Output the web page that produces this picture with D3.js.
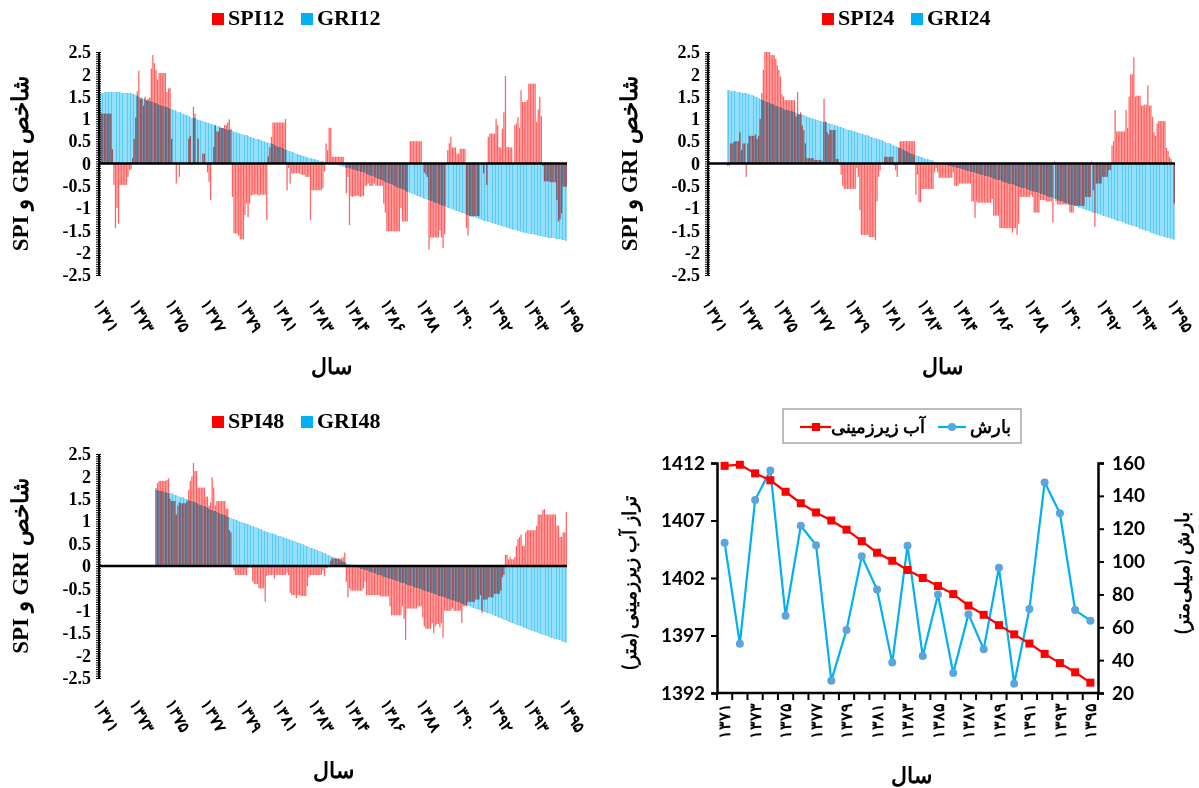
<!DOCTYPE html>
<html>
<head>
<meta charset="utf-8">
<script src="https://cdn.jsdelivr.net/npm/d3@7"></script>
<style>
  body { margin: 0; background: #fff; }
  .serif text { font-family: "Liberation Serif", "Times New Roman", serif; font-weight: bold; }
  .sans text { font-family: Lato, "Liberation Sans", sans-serif; font-weight: bold; }
</style>
</head>
<body>
<svg id="chart" width="1199" height="788"></svg>
<script>
// monthly index values, 1371/1 .. 1395/12 (300 months); null = no value
const spi12 = [
  1.25,1.12,1.12,1.12,1.12,1.12,1.12,1.12,0.32,-0.48,
  -1.45,-1.0,-1.35,-0.48,-0.48,-0.48,-0.48,-0.48,-0.3,-0.15,
  -0.13,0.12,0.55,1.03,1.62,2.08,1.45,1.45,1.3,1.5,
  1.42,1.45,1.48,2.13,2.43,2.25,2.1,1.88,2.03,2.03,
  2.03,2.03,2.03,1.6,1.68,1.7,0.55,0,0,-0.45,
  0,-0.3,0,0,0,0,0,0.56,0.62,0,
  1.27,1.12,0,0.56,0,0,0.22,0.22,0,-0.2,
  -0.41,-0.82,0,0.37,0.87,0.72,0.72,0.8,0.8,0.8,
  0.86,0.86,0.92,0.99,0.78,-0.75,-1.57,-1.57,-1.57,-1.62,
  -1.7,-1.7,-1.7,-1.16,-0.9,-1.2,-0.9,-0.72,-0.7,-0.7,
  -0.68,-0.7,-0.72,-0.7,-0.7,-0.7,-0.7,-1.27,0.16,0.36,
  0.6,0.92,0.92,0.92,0.92,0.92,0.92,0.92,0.92,1.0,
  -0.6,-0.1,-0.45,-0.22,-0.22,-0.22,-0.22,-0.22,-0.22,-0.25,
  -0.25,-0.25,-0.3,-0.3,-0.3,-1.27,-0.6,-0.6,-0.6,-0.6,
  -0.6,-0.6,-0.6,-0.55,-0.18,0.45,0.3,0.8,0.8,0.15,
  0.15,0.15,0.15,0.15,0.15,0.15,0.15,0,-0.67,-0.3,
  -1.38,-0.73,-0.75,-0.73,-0.73,-0.72,-0.73,-0.75,-0.73,-0.73,
  -0.5,-0.5,-0.45,-0.5,-0.5,-0.5,-0.45,-0.5,-0.5,-0.5,
  -0.5,-0.5,-0.9,-1.1,-1.52,-1.52,-1.52,-1.52,-1.52,-1.52,
  -1.52,-1.52,-1.52,-1.0,-1.3,-1.3,-1.3,-1.3,0,0.5,
  0.5,0.5,0.5,0.5,0.5,0.5,0.5,0,-0.2,-0.25,
  -0.3,-1.93,-1.66,-1.66,-1.66,-1.66,-1.66,-1.66,-1.5,-1.66,
  -1.9,-1.59,0,0.3,0.45,0.6,0.36,0.36,0.36,0.22,
  0.22,0.33,0.33,0.33,0.33,-1.45,-1.62,-1.18,-1.18,-1.18,
  -1.18,-1.18,-1.18,-1.18,0,0,-0.22,0,-0.48,0.6,
  0.67,0.67,0.67,0.67,1.0,0.86,0.37,0.35,0.78,1.16,
  1.96,0.37,0.36,0.36,0.36,0,0.86,0.9,1.04,0.8,
  1.64,1.38,1.38,1.38,1.42,1.79,1.79,1.79,1.79,1.79,
  0.93,1.21,1.49,1.06,-0.06,-0.4,-0.4,-0.4,-0.4,-0.42,
  -0.42,-0.42,-0.42,-0.82,-1.3,-1.25,-1.12,-0.52,-0.52,-0.52
];
const gri12 = [
  1.58,1.59,1.59,1.6,1.6,1.6,1.6,1.6,1.6,1.6,
  1.6,1.6,1.6,1.6,1.59,1.59,1.59,1.58,1.58,1.58,
  1.58,1.56,1.55,1.53,1.52,1.5,1.49,1.47,1.45,1.44,
  1.42,1.41,1.4,1.39,1.37,1.36,1.35,1.34,1.32,1.31,
  1.3,1.29,1.27,1.26,1.24,1.23,1.22,1.2,1.19,1.17,
  1.16,1.15,1.13,1.12,1.1,1.09,1.08,1.06,1.05,1.03,
  1.02,1.01,1.0,0.98,0.97,0.96,0.95,0.94,0.92,0.91,
  0.9,0.89,0.88,0.86,0.85,0.84,0.83,0.82,0.8,0.79,
  0.78,0.77,0.76,0.75,0.74,0.72,0.71,0.7,0.69,0.68,
  0.67,0.66,0.65,0.64,0.63,0.61,0.6,0.59,0.58,0.57,
  0.56,0.55,0.54,0.52,0.51,0.5,0.49,0.48,0.46,0.45,
  0.44,0.43,0.41,0.4,0.38,0.37,0.36,0.34,0.33,0.31,
  0.3,0.29,0.27,0.26,0.25,0.23,0.22,0.21,0.19,0.18,
  0.17,0.16,0.15,0.14,0.13,0.12,0.11,0.1,0.09,0.08,
  0.07,0.06,0.05,0.05,0.04,0.03,0.02,0.02,0.01,0,
  -0.01,-0.02,-0.03,-0.04,-0.05,-0.06,-0.07,-0.08,-0.09,-0.1,
  -0.11,-0.12,-0.13,-0.14,-0.15,-0.16,-0.17,-0.18,-0.19,-0.2,
  -0.22,-0.23,-0.25,-0.26,-0.28,-0.29,-0.31,-0.32,-0.34,-0.35,
  -0.37,-0.38,-0.4,-0.41,-0.43,-0.44,-0.46,-0.47,-0.49,-0.5,
  -0.52,-0.54,-0.55,-0.57,-0.58,-0.6,-0.62,-0.63,-0.65,-0.66,
  -0.68,-0.69,-0.71,-0.72,-0.73,-0.75,-0.76,-0.77,-0.79,-0.8,
  -0.81,-0.82,-0.84,-0.85,-0.87,-0.88,-0.89,-0.91,-0.92,-0.94,
  -0.95,-0.96,-0.98,-0.99,-1.0,-1.02,-1.03,-1.04,-1.06,-1.07,
  -1.08,-1.09,-1.11,-1.12,-1.13,-1.15,-1.16,-1.17,-1.19,-1.2,
  -1.21,-1.22,-1.23,-1.24,-1.25,-1.27,-1.28,-1.29,-1.3,-1.31,
  -1.32,-1.33,-1.34,-1.35,-1.36,-1.38,-1.39,-1.4,-1.41,-1.42,
  -1.43,-1.44,-1.45,-1.46,-1.47,-1.48,-1.49,-1.5,-1.51,-1.52,
  -1.53,-1.54,-1.55,-1.55,-1.56,-1.57,-1.58,-1.59,-1.59,-1.6,
  -1.61,-1.62,-1.62,-1.63,-1.64,-1.64,-1.65,-1.66,-1.66,-1.67,
  -1.68,-1.68,-1.69,-1.69,-1.7,-1.7,-1.71,-1.71,-1.72,-1.73
];
const spi24 = [
  null,null,null,null,null,null,null,null,null,null,
  null,null,-0.05,-0.05,0.45,0.45,0.48,0.5,0.5,0.5,
  0.7,0.3,0.45,0.45,-0.3,0.45,0.62,0.62,0.62,0.62,
  0.65,0.55,0.62,1.0,1.58,2.1,2.5,2.5,2.5,2.5,
  2.43,2.43,2.43,2.35,2.2,2.1,1.95,1.55,1.5,1.42,
  1.42,1.42,1.42,1.42,1.42,1.42,1.05,1.6,1.1,1.15,
  0.85,0.75,0.45,0.12,0.12,0.12,0.12,0.12,0.08,0.08,
  0.08,0.08,0.08,0.05,1.45,0.95,0.7,0.65,0.75,0.75,
  0.75,0.75,0.1,0.1,-0.03,-0.25,-0.5,-0.57,-0.57,-0.57,
  -0.57,-0.57,-0.57,-0.57,-0.57,-0.1,-0.3,-1.05,-1.6,-1.6,
  -1.6,-1.6,-1.6,-1.65,-1.65,-1.65,-1.65,-1.72,-0.85,-0.3,
  -0.15,0,0,0.15,0.15,0.15,0.15,0.15,0.15,-0.05,
  -0.15,-0.3,0.35,0.5,0.5,0.5,0.5,0.5,0.5,0.5,
  0.5,0.5,0.5,-0.7,-0.25,-0.87,-0.87,-0.57,-0.57,-0.57,
  -0.57,-0.57,-0.57,-0.57,-0.57,-0.2,-0.1,-0.2,-0.32,-0.32,
  -0.32,-0.32,-0.32,-0.32,-0.32,-0.32,-0.32,-0.2,-0.5,-0.5,
  -0.5,-0.45,-0.45,-0.45,-0.45,-0.45,-0.45,-0.45,-0.45,-0.85,
  -0.85,-1.22,-0.85,-0.88,-0.88,-0.88,-0.88,-0.88,-0.88,-0.88,
  -0.88,-0.88,-0.8,-1.17,-1.17,-1.17,-1.17,-1.45,-1.45,-1.45,
  -1.45,-1.45,-1.45,-1.45,-1.45,-1.55,-1.45,-1.45,-1.6,-1.35,
  -0.75,-0.75,-0.75,-0.75,-0.75,-0.75,-0.75,-0.7,-0.75,-1.1,
  -1.1,-1.1,-1.1,-0.82,-0.82,-0.82,-0.82,-0.85,-0.85,-0.85,
  -0.85,-1.32,0.05,-0.85,-0.92,-0.92,-0.92,-0.92,-0.92,-0.92,
  -0.92,-0.92,-1.1,-1.1,-1.1,-0.95,-0.95,-0.95,-0.95,-0.95,
  -0.95,-0.95,-0.75,-0.75,-0.75,-0.75,0.05,-0.6,-1.42,-0.45,
  -0.45,-0.45,-0.45,-0.3,-0.3,-0.3,-0.3,-0.15,-0.15,0.4,
  0.5,1.2,0.72,0.72,0.72,0.72,0.72,0.72,1.2,0.8,
  1.5,2.0,2.0,2.38,1.5,1.52,1.52,1.52,1.3,1.3,
  1.32,1.32,1.75,1.3,1.3,1.05,0.7,0.62,0.9,0.95,
  0.95,0.95,0.95,0.95,0.35,0.28,0.15,0.1,0,-0.9
];
const gri24 = [
  null,null,null,null,null,null,null,null,null,null,
  null,null,1.64,1.64,1.63,1.63,1.62,1.62,1.61,1.61,
  1.6,1.59,1.59,1.58,1.57,1.56,1.55,1.54,1.53,1.51,
  1.5,1.48,1.47,1.45,1.43,1.42,1.4,1.39,1.37,1.36,
  1.34,1.33,1.31,1.3,1.28,1.27,1.26,1.24,1.23,1.21,
  1.2,1.19,1.18,1.17,1.16,1.15,1.13,1.12,1.11,1.1,
  1.09,1.08,1.07,1.05,1.04,1.03,1.02,1.0,0.99,0.98,
  0.97,0.96,0.95,0.94,0.93,0.92,0.91,0.9,0.89,0.88,
  0.87,0.86,0.85,0.83,0.82,0.81,0.8,0.79,0.77,0.76,
  0.75,0.74,0.73,0.72,0.71,0.7,0.69,0.68,0.67,0.66,
  0.65,0.64,0.63,0.61,0.6,0.59,0.58,0.57,0.55,0.54,
  0.53,0.52,0.5,0.49,0.47,0.46,0.45,0.43,0.42,0.4,
  0.39,0.37,0.36,0.34,0.32,0.31,0.29,0.27,0.26,0.24,
  0.22,0.21,0.2,0.19,0.17,0.16,0.15,0.14,0.12,0.11,
  0.1,0.09,0.08,0.07,0.05,0.04,0.03,0.02,0.01,0,
  -0.01,-0.02,-0.03,-0.04,-0.05,-0.06,-0.06,-0.07,-0.08,-0.09,
  -0.1,-0.11,-0.12,-0.13,-0.14,-0.15,-0.16,-0.17,-0.18,-0.19,
  -0.2,-0.21,-0.22,-0.23,-0.24,-0.25,-0.26,-0.27,-0.28,-0.29,
  -0.3,-0.31,-0.32,-0.34,-0.35,-0.36,-0.37,-0.38,-0.4,-0.41,
  -0.42,-0.43,-0.44,-0.45,-0.46,-0.47,-0.49,-0.5,-0.51,-0.52,
  -0.53,-0.54,-0.55,-0.56,-0.57,-0.59,-0.6,-0.61,-0.62,-0.63,
  -0.64,-0.65,-0.66,-0.68,-0.69,-0.7,-0.71,-0.72,-0.74,-0.75,
  -0.76,-0.77,-0.79,-0.8,-0.81,-0.83,-0.84,-0.85,-0.87,-0.88,
  -0.89,-0.9,-0.92,-0.93,-0.94,-0.95,-0.96,-0.98,-0.99,-1.0,
  -1.01,-1.02,-1.04,-1.05,-1.06,-1.07,-1.08,-1.1,-1.11,-1.12,
  -1.13,-1.14,-1.16,-1.17,-1.18,-1.19,-1.2,-1.22,-1.23,-1.24,
  -1.25,-1.26,-1.28,-1.29,-1.3,-1.31,-1.32,-1.34,-1.35,-1.36,
  -1.37,-1.38,-1.4,-1.41,-1.42,-1.43,-1.45,-1.46,-1.47,-1.49,
  -1.5,-1.51,-1.52,-1.54,-1.55,-1.56,-1.57,-1.58,-1.6,-1.61,
  -1.62,-1.63,-1.64,-1.65,-1.66,-1.67,-1.68,-1.69,-1.7,-1.72
];
const spi48 = [
  null,null,null,null,null,null,null,null,null,null,
  null,null,null,null,null,null,null,null,null,null,
  null,null,null,null,null,null,null,null,null,null,
  null,null,null,null,null,null,1.74,1.85,1.9,1.9,
  1.9,1.9,1.9,1.92,1.96,1.5,1.45,1.45,1.45,1.15,
  1.35,1.42,1.4,1.4,1.4,1.4,1.45,1.7,1.9,2.0,
  2.3,2.12,2.12,1.75,1.75,1.75,1.75,1.75,1.55,1.55,
  1.35,1.42,1.98,1.75,1.35,1.45,1.45,1.45,1.45,1.45,
  1.45,1.28,1.28,0.8,0.75,-0.02,-0.1,-0.2,-0.2,-0.2,
  -0.2,-0.2,-0.2,-0.2,-0.2,-0.05,-0.02,-0.05,-0.35,-0.4,
  -0.4,-0.4,-0.5,-0.5,-0.5,-0.5,-0.8,-0.22,-0.2,-0.2,
  -0.2,-0.2,-0.28,-0.2,-0.2,-0.2,-0.2,-0.2,-0.2,-0.2,
  -0.15,-0.2,-0.6,-0.65,-0.65,-0.65,-0.72,-0.65,-0.65,-0.67,
  -0.67,-0.67,-0.67,-0.45,-0.25,-0.2,-0.2,-0.2,-0.2,-0.2,
  -0.2,-0.2,-0.2,-0.1,-0.23,-0.05,-0.05,-0.02,0.12,0.17,
  0.17,0.17,0.17,0.17,0.17,0.17,0.2,0.3,-0.35,-0.7,
  -0.5,-0.55,-0.55,-0.55,-0.55,-0.55,-0.55,-0.55,-0.55,-0.5,
  -0.35,-0.65,-0.65,-0.65,-0.65,-0.65,-0.65,-0.65,-0.65,-0.65,
  -0.68,-0.68,-0.68,-0.68,-0.68,-0.68,-0.9,-1.1,-1.1,-1.1,
  -1.1,-1.1,-1.1,-1.1,-0.9,-1.18,-1.65,-0.95,-0.95,-0.95,
  -0.95,-0.95,-0.95,-0.95,-0.9,-0.9,-0.9,-1.15,-1.35,-1.4,
  -1.4,-1.4,-1.4,-1.28,-1.5,-1.35,-1.3,-1.3,-1.37,-1.28,
  -1.6,-1.0,-1.0,-1.0,-1.0,-1.0,-0.95,-1.0,-1.0,-1.0,
  -1.0,-1.0,-1.27,-0.9,-0.9,-0.9,-0.8,-0.8,-0.8,-0.8,
  -0.8,-0.75,-0.75,-0.75,-0.65,-1.05,-0.75,-0.75,-0.75,-0.7,
  -0.7,-0.7,-0.7,-0.62,-0.62,-0.62,-0.62,-0.55,-0.25,-0.2,
  0.25,0.25,0.15,0.2,0.15,0.15,0.2,0.45,0.6,0.65,
  0.7,0.45,0.45,0.75,0.8,0.8,0.8,0.8,0.8,0.8,
  0.9,1.15,1.15,1.15,1.25,1.27,1.15,1.15,1.15,1.15,
  1.15,1.15,1.15,0.9,0.9,0.65,0.65,0.75,0.75,1.2
];
const gri48 = [
  null,null,null,null,null,null,null,null,null,null,
  null,null,null,null,null,null,null,null,null,null,
  null,null,null,null,null,null,null,null,null,null,
  null,null,null,null,null,null,1.69,1.69,1.68,1.67,
  1.67,1.66,1.65,1.64,1.64,1.63,1.62,1.6,1.59,1.58,
  1.57,1.55,1.54,1.53,1.51,1.5,1.49,1.47,1.46,1.44,
  1.43,1.42,1.4,1.39,1.37,1.36,1.34,1.33,1.31,1.29,
  1.28,1.26,1.25,1.23,1.22,1.2,1.19,1.17,1.16,1.14,
  1.13,1.12,1.1,1.09,1.07,1.06,1.05,1.03,1.02,1.01,
  0.99,0.98,0.97,0.95,0.94,0.93,0.92,0.9,0.89,0.87,
  0.86,0.85,0.83,0.82,0.8,0.79,0.78,0.77,0.75,0.74,
  0.73,0.72,0.71,0.69,0.68,0.67,0.66,0.65,0.63,0.62,
  0.61,0.6,0.59,0.57,0.56,0.55,0.54,0.52,0.51,0.5,
  0.48,0.47,0.45,0.44,0.42,0.41,0.4,0.38,0.37,0.35,
  0.34,0.33,0.31,0.3,0.28,0.27,0.25,0.24,0.22,0.21,
  0.19,0.18,0.16,0.15,0.13,0.12,0.1,0.09,0.07,0.05,
  0.04,0.02,0.01,0,-0.02,-0.03,-0.04,-0.06,-0.07,-0.08,
  -0.09,-0.1,-0.12,-0.13,-0.14,-0.15,-0.16,-0.18,-0.19,-0.2,
  -0.21,-0.22,-0.24,-0.25,-0.26,-0.27,-0.28,-0.3,-0.31,-0.32,
  -0.33,-0.34,-0.36,-0.37,-0.38,-0.39,-0.4,-0.42,-0.43,-0.44,
  -0.45,-0.46,-0.48,-0.49,-0.5,-0.51,-0.52,-0.54,-0.55,-0.56,
  -0.57,-0.58,-0.6,-0.61,-0.62,-0.63,-0.64,-0.66,-0.67,-0.68,
  -0.69,-0.7,-0.72,-0.73,-0.74,-0.75,-0.76,-0.78,-0.79,-0.8,
  -0.81,-0.82,-0.84,-0.85,-0.86,-0.88,-0.89,-0.9,-0.91,-0.93,
  -0.94,-0.95,-0.96,-0.98,-0.99,-1.0,-1.02,-1.03,-1.04,-1.06,
  -1.07,-1.08,-1.1,-1.11,-1.12,-1.14,-1.15,-1.17,-1.18,-1.2,
  -1.21,-1.22,-1.24,-1.25,-1.27,-1.28,-1.29,-1.31,-1.32,-1.34,
  -1.35,-1.36,-1.38,-1.39,-1.4,-1.42,-1.43,-1.44,-1.46,-1.47,
  -1.48,-1.49,-1.51,-1.52,-1.53,-1.55,-1.56,-1.57,-1.58,-1.6,
  -1.61,-1.62,-1.63,-1.64,-1.65,-1.66,-1.68,-1.69,-1.7,-1.72
];

// x labels of the monthly charts (one every 23 months)
const monthTickPos = [0, 23, 46, 69, 92, 115, 138, 161, 184, 207, 230, 253, 276, 299];
const monthTickLabels = ["۱۳۷۱","۱۳۷۳","۱۳۷۵","۱۳۷۷","۱۳۷۹","۱۳۸۱","۱۳۸۳","۱۳۸۴","۱۳۸۶","۱۳۸۸","۱۳۹۰","۱۳۹۲","۱۳۹۳","۱۳۹۵"];
const yTicks = [2.5, 2, 1.5, 1, 0.5, 0, -0.5, -1, -1.5, -2, -2.5];

// yearly chart
const years = ["۱۳۷۱","۱۳۷۲","۱۳۷۳","۱۳۷۴","۱۳۷۵","۱۳۷۶","۱۳۷۷","۱۳۷۸","۱۳۷۹","۱۳۸۰","۱۳۸۱","۱۳۸۲","۱۳۸۳",
               "۱۳۸۴","۱۳۸۵","۱۳۸۶","۱۳۸۷","۱۳۸۸","۱۳۸۹","۱۳۹۰","۱۳۹۱","۱۳۹۲","۱۳۹۳","۱۳۹۴","۱۳۹۵"];
const groundwater = [1411.75,1411.85,1411.1,1410.5,1409.5,1408.5,1407.7,1407.0,1406.2,1405.2,1404.2,1403.5,1402.7,
                     1402.0,1401.3,1400.6,1399.6,1398.8,1397.9,1397.1,1396.3,1395.4,1394.6,1393.8,1392.9];
const rainfall = [111.5,50,137.5,155.5,67,121.8,110,27.5,58.4,103.2,83,38.5,109.7,
                  42.5,80,32.2,68,46.6,96.3,25.7,71.1,148.2,129.4,70.5,64];
const gwTicks = [1392, 1397, 1402, 1407, 1412];
const rainTicks = [20, 40, 60, 80, 100, 120, 140, 160];

const RED = "#FF0000", BLUE = "#00B0F0";
const svg = d3.select("#chart");

function barChart(o) {
  const g = svg.append("g").attr("class", "serif");
  const x = d3.scaleBand().domain(d3.range(300)).range([o.x0, o.x1]).paddingInner(0);
  const y = d3.scaleLinear().domain([-2.5, 2.5]).range([o.yBot, o.yTop]);
  const step = x.bandwidth();

  const gri = o.gri.map((v, i) => ({i, v})).filter(d => d.v !== null);
  const spi = o.spi.map((v, i) => ({i, v})).filter(d => d.v !== null);

  // GRI: 2px crisp columns, overlapping neighbours give the striped look
  g.append("g").attr("shape-rendering", "crispEdges").selectAll("rect").data(gri).join("rect")
    .attr("x", d => Math.round(x(d.i))).attr("width", 2)
    .attr("y", d => y(Math.max(0, d.v))).attr("height", d => Math.abs(y(d.v) - y(0)))
    .attr("fill", BLUE).attr("fill-opacity", 0.42);
  // SPI: thin semi-transparent columns multiplied over GRI
  g.append("g").style("mix-blend-mode", "multiply")
    .selectAll("rect").data(spi).join("rect")
    .attr("x", d => x(d.i) + step * 0.15).attr("width", step * 0.8)
    .attr("y", d => y(Math.max(0, d.v))).attr("height", d => Math.abs(y(d.v) - y(0)))
    .attr("fill", RED).attr("fill-opacity", 0.62);

  // zero line
  g.append("line").attr("x1", o.x0).attr("x2", o.x1).attr("y1", y(0)).attr("y2", y(0))
    .attr("stroke", "#000").attr("stroke-width", 2.5);

  // y axis with minor ladder ticks
  const minor = d3.range(-50, 51).map(k => k * 0.05);
  const axL = g.append("g").attr("transform", `translate(${o.x0},0)`)
    .call(d3.axisLeft(y).tickValues(minor).tickSize(3).tickFormat(""));
  const axR = g.append("g").attr("transform", `translate(${o.x0},0)`)
    .call(d3.axisRight(y).tickValues(minor).tickSize(2).tickFormat(""));
  [axL, axR].forEach(a => { a.select(".domain").remove(); a.selectAll("line").attr("stroke", "#000").attr("stroke-width", 1); });
  g.append("line").attr("x1", o.x0).attr("x2", o.x0).attr("y1", y(2.5)).attr("y2", y(-2.5))
    .attr("stroke", "#000").attr("stroke-width", 2);
  const lab = g.append("g").attr("transform", `translate(${o.x0},0)`)
    .call(d3.axisLeft(y).tickValues(yTicks).tickSize(0).tickPadding(8).tickFormat(d => String(d)));
  lab.select(".domain").remove();
  lab.selectAll("text").attr("font-size", 18).attr("fill", "#000")
    .attr("font-family", "Liberation Serif, serif").attr("font-weight", "bold");

  // x labels
  g.append("g").selectAll("text").data(monthTickPos).join("text")
    .attr("transform", (d, k) => `translate(${x(d) + step / 2 - 2},${o.labY}) rotate(62)`)
    .attr("font-size", 16).attr("dy", "0.35em")
    .attr("font-family", "DejaVu Sans, sans-serif")
    .text((d, k) => monthTickLabels[k]);

  // titles
  g.append("text").attr("transform", `translate(${o.titleX},${y(0)}) rotate(-90)`)
    .attr("text-anchor", "middle").attr("dominant-baseline", "central")
    .style("direction", "rtl").attr("font-size", 23).text("شاخص GRI و SPI");
  g.append("text").attr("x", o.xTitleX).attr("y", o.xTitleY).attr("text-anchor", "middle")
    .attr("font-size", 22).text("سال");

  // legend
  const lg = g.append("g");
  lg.append("rect").attr("x", o.legX).attr("y", o.legY - 12).attr("width", 12).attr("height", 12).attr("fill", RED);
  lg.append("text").attr("x", o.legX + 16).attr("y", o.legY).attr("font-size", 22).text(o.spiName);
  lg.append("rect").attr("x", o.legX + 89).attr("y", o.legY - 12).attr("width", 12).attr("height", 12).attr("fill", BLUE);
  lg.append("text").attr("x", o.legX + 105).attr("y", o.legY).attr("font-size", 22).text(o.griName);
}

barChart({x0: 99, x1: 567, yTop: 52, yBot: 275, spi: spi12, gri: gri12, spiName: "SPI12", griName: "GRI12",
          labY: 300, titleX: 20, xTitleX: 331, xTitleY: 374, legX: 212, legY: 25});
barChart({x0: 708, x1: 1175, yTop: 52, yBot: 275, spi: spi24, gri: gri24, spiName: "SPI24", griName: "GRI24",
          labY: 300, titleX: 629, xTitleX: 942, xTitleY: 374, legX: 822, legY: 25});
barChart({x0: 99, x1: 567, yTop: 454, yBot: 678, spi: spi48, gri: gri48, spiName: "SPI48", griName: "GRI48",
          labY: 700, titleX: 20, xTitleX: 333, xTitleY: 778, legX: 212, legY: 428});

// ---- groundwater / rainfall chart ----
(function () {
  const g = svg.append("g").attr("class", "sans");
  const L = 717, R = 1098, T = 463, B = 693;
  const x = d3.scaleBand().domain(years).range([L, R]);
  const yL = d3.scaleLinear().domain([1392, 1412]).range([B, T]);
  const yR = d3.scaleLinear().domain([20, 160]).range([B, T]);
  const cx = d => x(d) + x.bandwidth() / 2;

  // axes
  const left = g.append("g").attr("transform", `translate(${L},0)`)
    .call(d3.axisLeft(yL).tickValues(gwTicks).tickSize(6).tickPadding(6).tickFormat(d3.format("d")));
  const right = g.append("g").attr("transform", `translate(${R},0)`)
    .call(d3.axisRight(yR).tickValues(rainTicks).tickSize(6).tickPadding(8).tickFormat(d3.format("d")));
  [left, right].forEach(a => {
    a.select(".domain").attr("stroke", "#000").attr("stroke-width", 2.5);
    a.selectAll("line").attr("stroke", "#000").attr("stroke-width", 2);
    a.selectAll("text").attr("font-size", 19).attr("fill", "#000")
      .attr("font-family", "Lato, sans-serif").attr("font-weight", "bold");
  });
  g.append("line").attr("x1", L).attr("x2", R).attr("y1", B).attr("y2", B).attr("stroke", "#000").attr("stroke-width", 2.5);
  g.append("g").selectAll("line").data(years.concat([null])).join("line")
    .attr("x1", (d, i) => d ? x(d) : R).attr("x2", (d, i) => d ? x(d) : R)
    .attr("y1", B).attr("y2", B + 7).attr("stroke", "#000").attr("stroke-width", 2);
  g.append("g").selectAll("text").data(years.filter((d, i) => i % 2 === 0)).join("text")
    .attr("transform", d => `translate(${cx(d)},${B + 10}) rotate(-90)`)
    .attr("text-anchor", "end").attr("dy", "0.35em").attr("font-size", 16)
    .attr("font-family", "DejaVu Sans, sans-serif").text(d => d);

  // rainfall
  const rain = years.map((d, i) => ({d, v: rainfall[i]}));
  g.append("path").datum(rain).attr("fill", "none").attr("stroke", BLUE).attr("stroke-width", 2.2)
    .attr("d", d3.line().x(p => cx(p.d)).y(p => yR(p.v)));
  g.append("g").selectAll("circle").data(rain).join("circle")
    .attr("cx", p => cx(p.d)).attr("cy", p => yR(p.v)).attr("r", 4).attr("fill", "#5BA5DE");

  // groundwater
  const gw = years.map((d, i) => ({d, v: groundwater[i]}));
  g.append("path").datum(gw).attr("fill", "none").attr("stroke", RED).attr("stroke-width", 2.2)
    .attr("d", d3.line().x(p => cx(p.d)).y(p => yL(p.v)));
  g.append("g").selectAll("rect").data(gw).join("rect")
    .attr("x", p => cx(p.d) - 4).attr("y", p => yL(p.v) - 4).attr("width", 8).attr("height", 8).attr("fill", RED);

  // titles
  g.append("text").attr("transform", `translate(628,583) rotate(-90)`).attr("text-anchor", "middle")
    .attr("dominant-baseline", "central").style("direction", "rtl").attr("font-size", 19)
    .attr("font-family", "DejaVu Sans, sans-serif").text("تراز آب زیرزمینی (متر)");
  g.append("text").attr("transform", `translate(1181,573) rotate(-90)`).attr("text-anchor", "middle")
    .attr("dominant-baseline", "central").style("direction", "rtl").attr("font-size", 19)
    .attr("font-family", "DejaVu Sans, sans-serif").text("بارش (میلی\u200cمتر)");
  g.append("text").attr("x", 911).attr("y", 783).attr("text-anchor", "middle").attr("font-size", 22)
    .attr("font-family", "DejaVu Sans, sans-serif").text("سال");

  // legend
  const lg = g.append("g");
  lg.append("rect").attr("x", 783).attr("y", 409).attr("width", 238).attr("height", 34)
    .attr("fill", "#fff").attr("stroke", "#A6A6A6").attr("stroke-width", 1.5);
  lg.append("line").attr("x1", 800).attr("x2", 831).attr("y1", 427).attr("y2", 427).attr("stroke", RED).attr("stroke-width", 2.2);
  lg.append("rect").attr("x", 812).attr("y", 423).attr("width", 8).attr("height", 8).attr("fill", RED);
  lg.append("text").attr("x", 878).attr("y", 433).attr("text-anchor", "middle").attr("font-size", 18)
    .attr("font-family", "DejaVu Sans, sans-serif").style("direction", "rtl").text("آب زیرزمینی");
  lg.append("line").attr("x1", 938).attr("x2", 966).attr("y1", 427).attr("y2", 427).attr("stroke", BLUE).attr("stroke-width", 2.2);
  lg.append("circle").attr("cx", 952).attr("cy", 427).attr("r", 4).attr("fill", "#5BA5DE");
  lg.append("text").attr("x", 990).attr("y", 433).attr("text-anchor", "middle").attr("font-size", 18)
    .attr("font-family", "DejaVu Sans, sans-serif").style("direction", "rtl").text("بارش");
})();
</script>
</body>
</html>
